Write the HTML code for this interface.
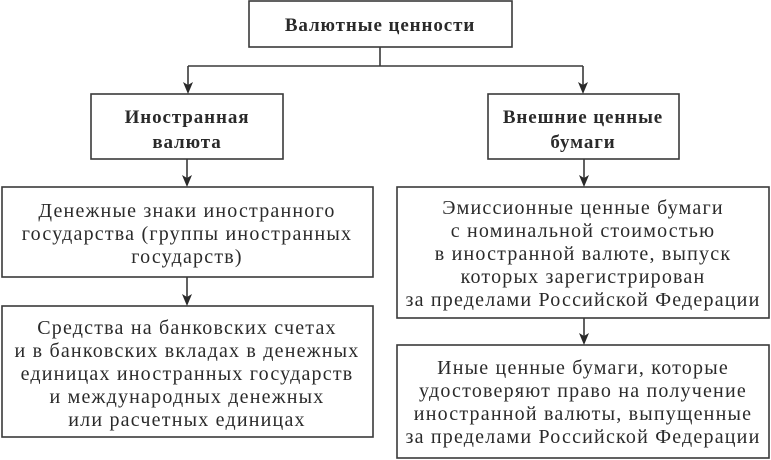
<!DOCTYPE html>
<html><head><meta charset="utf-8"><style>
html,body{margin:0;padding:0;background:#fff;}
svg{display:block;}
text{font-family:"Liberation Serif","DejaVu Serif",serif;fill:#2a2a2a;text-anchor:middle;}
.b{font-weight:bold;font-size:19px;letter-spacing:0.9px;}
.n{font-size:20px;letter-spacing:1.2px;}
</style></head><body>
<svg width="771" height="460" viewBox="0 0 771 460" xmlns="http://www.w3.org/2000/svg">
<g stroke="#3a3a3a" stroke-width="1.6" fill="none">
<rect x="249" y="1" width="263" height="46"/>
<rect x="91" y="94" width="192" height="65"/>
<rect x="488" y="94" width="191" height="65"/>
<rect x="2" y="187" width="371" height="90"/>
<rect x="2" y="306" width="371" height="131"/>
<rect x="397" y="187" width="372" height="131"/>
<rect x="397" y="345" width="372" height="113"/>
<path d="M380,47 V66 M188,66 H583"/>
<path d="M188,66 V88 M583,66 V88 M187,159 V181 M584,159 V181 M187,277 V300 M584,318 V339"/>
</g>
<g fill="#2a2a2a">
<path d="M183,82 L188,94 L193,82 L188,85 Z"/>
<path d="M578,82 L583,94 L588,82 L583,85 Z"/>
<path d="M182,175 L187,187 L192,175 L187,178 Z"/>
<path d="M579,175 L584,187 L589,175 L584,178 Z"/>
<path d="M182,294 L187,306 L192,294 L187,297 Z"/>
<path d="M579,333 L584,345 L589,333 L584,336 Z"/>
</g>
<text class="b" x="380" y="31">Валютные ценности</text>
<text class="b" x="187" y="123">Иностранная</text>
<text class="b" x="187" y="148">валюта</text>
<text class="b" x="583" y="123">Внешние ценные</text>
<text class="b" x="583" y="148">бумаги</text>
<g class="n">
<text x="187" y="217">Денежные знаки иностранного</text>
<text x="187" y="240">государства (группы иностранных</text>
<text x="187" y="263">государств)</text>
<text x="187" y="334">Средства на банковских счетах</text>
<text x="187" y="357">и в банковских вкладах в денежных</text>
<text x="187" y="380">единицах иностранных государств</text>
<text x="187" y="403">и международных денежных</text>
<text x="187" y="426">или расчетных единицах</text>
<text x="583" y="214">Эмиссионные ценные бумаги</text>
<text x="583" y="237">с номинальной стоимостью</text>
<text x="583" y="260">в иностранной валюте, выпуск</text>
<text x="583" y="283">которых зарегистрирован</text>
<text x="583" y="306">за пределами Российской Федерации</text>
<text x="583" y="374">Иные ценные бумаги, которые</text>
<text x="583" y="397">удостоверяют право на получение</text>
<text x="583" y="420">иностранной валюты, выпущенные</text>
<text x="583" y="443">за пределами Российской Федерации</text>
</g>
</svg>
</body></html>
